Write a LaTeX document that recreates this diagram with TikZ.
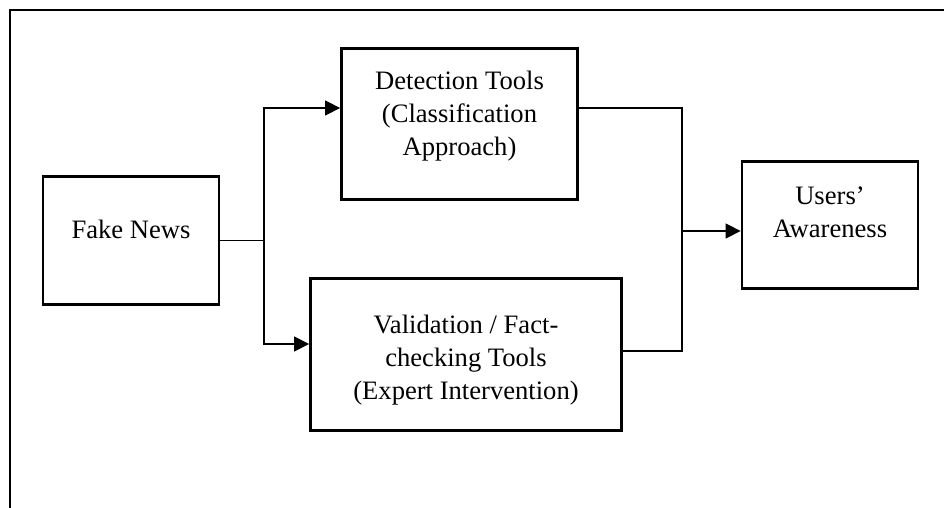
\documentclass[tikz,border=0pt]{standalone}
\usepackage{fontspec}
\setmainfont{Liberation Serif}
\usetikzlibrary{arrows.meta, positioning}

\begin{document}
\begin{tikzpicture}[x=0.5pt, y=-0.5pt,
  box/.style={draw, line width=1.4pt, inner sep=0pt},
  every label/.style={align=center, font=\fontsize{13.3}{16.5}\selectfont},
  link/.style={line width=0.7pt},
  flow/.style={link, -{Triangle[length=7.5pt, width=7.5pt]}}]

  \useasboundingbox (0,0) rectangle (944,508);
  \draw[line width=1.4pt] (10,508) -- (10,10) -- (944,10);

  \node[box, minimum width=88pt, minimum height=64pt,
    label={[yshift=5.65pt]center:Fake News}] (fake) at (131,240.5) {};
  \node[box, minimum width=118pt, minimum height=75.5pt,
    label={[yshift=3.95pt]center:{Detection Tools\\(Classification\\Approach)}}] (detect) at (459.5,124) {};
  \node[box, minimum width=155.5pt, minimum height=76pt,
    label={[yshift=-2.9pt]center:{Validation / Fact-\\checking Tools\\(Expert Intervention)}}] (valid) at (466,354.5) {};
  \node[box, minimum width=88pt, minimum height=63.5pt,
    label={[yshift=6.25pt]center:{Users'\\Awareness}}] (users) at (830,225) {};

  \coordinate (split) at (264,240.5);
  \coordinate (merge) at (682,231);

  \draw[link] (fake.east) -- (split);
  \draw[flow] (split) |- ([yshift=8pt]detect.west);
  \draw[flow] (split) |- ([yshift=5.25pt]valid.west);
  \draw[link] ([yshift=8pt]detect.east) -| (merge);
  \draw[link] ([yshift=1.75pt]valid.east) -| (merge);
  \draw[flow] (merge) -- ([yshift=-3pt]users.west);
\end{tikzpicture}
\end{document}
